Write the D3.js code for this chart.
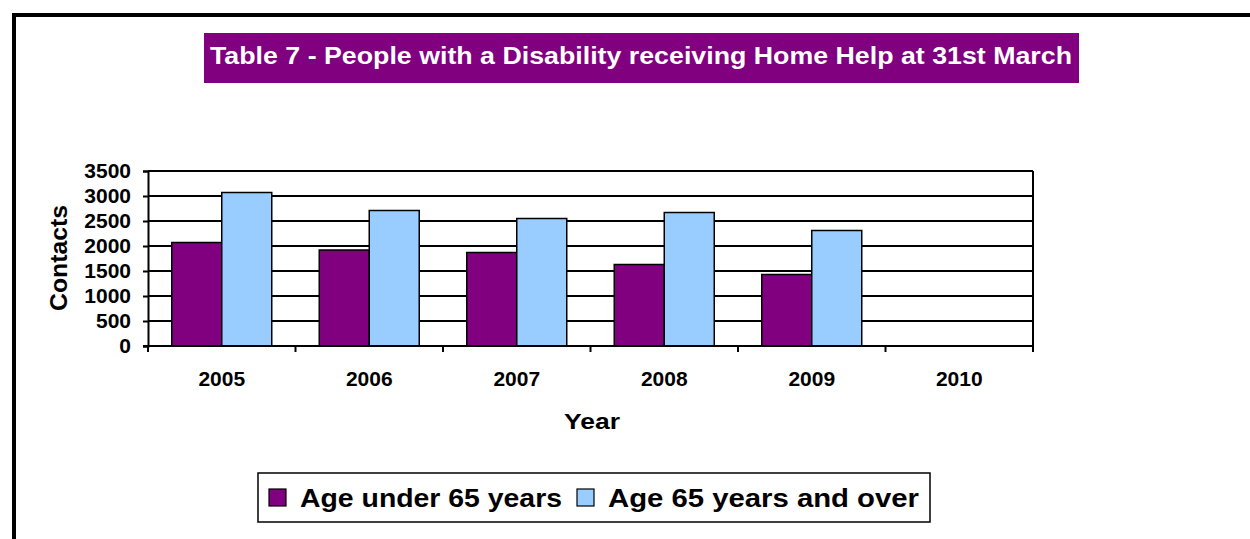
<!DOCTYPE html>
<html>
<head>
<meta charset="utf-8">
<script src="https://cdn.jsdelivr.net/npm/d3@7"></script>
<style>
  body { margin: 0; background: #fff; }
  text { font-family: Arial, "Liberation Sans", sans-serif; font-weight: bold; }
</style>
</head>
<body>
<div id="chart-area"></div>
<script>
// Data
const years = ["2005", "2006", "2007", "2008", "2009", "2010"];
const under65 = [2070, 1920, 1870, 1630, 1430, null];
const over65 = [3070, 2710, 2550, 2670, 2310, null];
const seriesNames = ["Age under 65 years", "Age 65 years and over"];
const yTicks = [0, 500, 1000, 1500, 2000, 2500, 3000, 3500];

const colors = ["#800080", "#99CCFF"];

const width = 1250, height = 539;
const plot = {left: 148, right: 1033, top: 171, bottom: 346};

const svg = d3.select("#chart-area").append("svg")
  .attr("width", width)
  .attr("height", height);

svg.append("rect").attr("width", width).attr("height", height).attr("fill", "#fff");

// outer frame
svg.append("rect")
  .attr("x", 14).attr("y", 15)
  .attr("width", 1250).attr("height", 600)
  .attr("fill", "none")
  .attr("stroke", "#000")
  .attr("stroke-width", 4);

// Title
svg.append("rect")
  .attr("x", 204).attr("y", 33)
  .attr("width", 875).attr("height", 50)
  .attr("fill", "#800080");
svg.append("text")
  .attr("x", 210).attr("y", 64)
  .attr("font-size", "23px")
  .attr("fill", "#fff")
  .attr("textLength", 862)
  .attr("lengthAdjust", "spacingAndGlyphs")
  .text("Table 7 - People with a Disability receiving Home Help at 31st March");

// Scales
const x = d3.scaleBand().domain(years).range([plot.left, plot.right]);
const barW = 50;
const y = d3.scaleLinear().domain([0, 3500]).range([plot.bottom, plot.top]);

// Gridlines
svg.append("g").selectAll("line").data(yTicks.slice(1)).join("line")
  .attr("x1", plot.left).attr("x2", plot.right)
  .attr("y1", d => y(d)).attr("y2", d => y(d))
  .attr("stroke", "#000").attr("stroke-width", 2);

// Right border of plot
svg.append("line")
  .attr("x1", plot.right).attr("x2", plot.right)
  .attr("y1", plot.top).attr("y2", plot.bottom)
  .attr("stroke", "#000").attr("stroke-width", 2);

// Bars
const groups = svg.append("g").selectAll("g").data(years).join("g")
  .attr("transform", d => `translate(${x(d) + x.bandwidth() / 2 - barW},0)`);

[under65, over65].forEach((vals, s) => {
  groups.filter((d, i) => vals[i] != null)
    .append("rect")
    .attr("x", s * barW)
    .attr("width", barW)
    .attr("y", d => y(vals[years.indexOf(d)]))
    .attr("height", d => plot.bottom - y(vals[years.indexOf(d)]))
    .attr("fill", colors[s])
    .attr("stroke", "#000")
    .attr("stroke-width", 1.5);
});

// Y axis
const yAxis = svg.append("g")
  .attr("transform", `translate(${plot.left},0)`)
  .call(d3.axisLeft(y).tickValues(yTicks).tickFormat(d3.format("d")).tickSize(5).tickPadding(12));
yAxis.select(".domain").attr("stroke-width", 2);
yAxis.selectAll(".tick line").attr("stroke-width", 2);
yAxis.selectAll("text").attr("font-size", "21px").attr("fill", "#000")
  .attr("font-family", "Arial, 'Liberation Sans', sans-serif").attr("font-weight", "bold");

// X axis
const xTickVals = years.map(d => x(d)).concat([plot.right]);
const xAxis = svg.append("g").attr("transform", `translate(0,${plot.bottom})`);
xAxis.append("line")
  .attr("x1", plot.left - 5).attr("x2", plot.right)
  .attr("stroke", "#000").attr("stroke-width", 2);
xAxis.selectAll(".xt").data(xTickVals).join("line")
  .attr("class", "xt")
  .attr("x1", d => d).attr("x2", d => d)
  .attr("y1", 0).attr("y2", 6)
  .attr("stroke", "#000").attr("stroke-width", 2);
xAxis.selectAll(".xl").data(years).join("text")
  .attr("class", "xl")
  .attr("x", d => x(d) + x.bandwidth() / 2)
  .attr("y", 40)
  .attr("text-anchor", "middle")
  .attr("font-size", "21px")
  .text(d => d);

// Axis titles
svg.append("text")
  .attr("transform", "translate(67,258) rotate(-90)")
  .attr("text-anchor", "middle")
  .attr("font-size", "23px")
  .attr("textLength", 106)
  .attr("lengthAdjust", "spacingAndGlyphs")
  .text("Contacts");
svg.append("text")
  .attr("x", 592).attr("y", 429)
  .attr("text-anchor", "middle")
  .attr("font-size", "22px")
  .attr("textLength", 56)
  .attr("lengthAdjust", "spacingAndGlyphs")
  .text("Year");

// Legend
const legend = svg.append("g");
legend.append("rect")
  .attr("x", 258).attr("y", 473)
  .attr("width", 672).attr("height", 49)
  .attr("fill", "#fff").attr("stroke", "#000").attr("stroke-width", 1.5);
const legendX = [269, 577];
const legendLen = [262, 311];
seriesNames.forEach((name, i) => {
  legend.append("rect")
    .attr("x", legendX[i]).attr("y", 489)
    .attr("width", 17).attr("height", 17)
    .attr("fill", colors[i]).attr("stroke", "#000").attr("stroke-width", 1.2);
  legend.append("text")
    .attr("x", legendX[i] + 31).attr("y", 507)
    .attr("font-size", "26px")
    .attr("textLength", legendLen[i])
    .attr("lengthAdjust", "spacingAndGlyphs")
    .text(name);
});
</script>
</body>
</html>
